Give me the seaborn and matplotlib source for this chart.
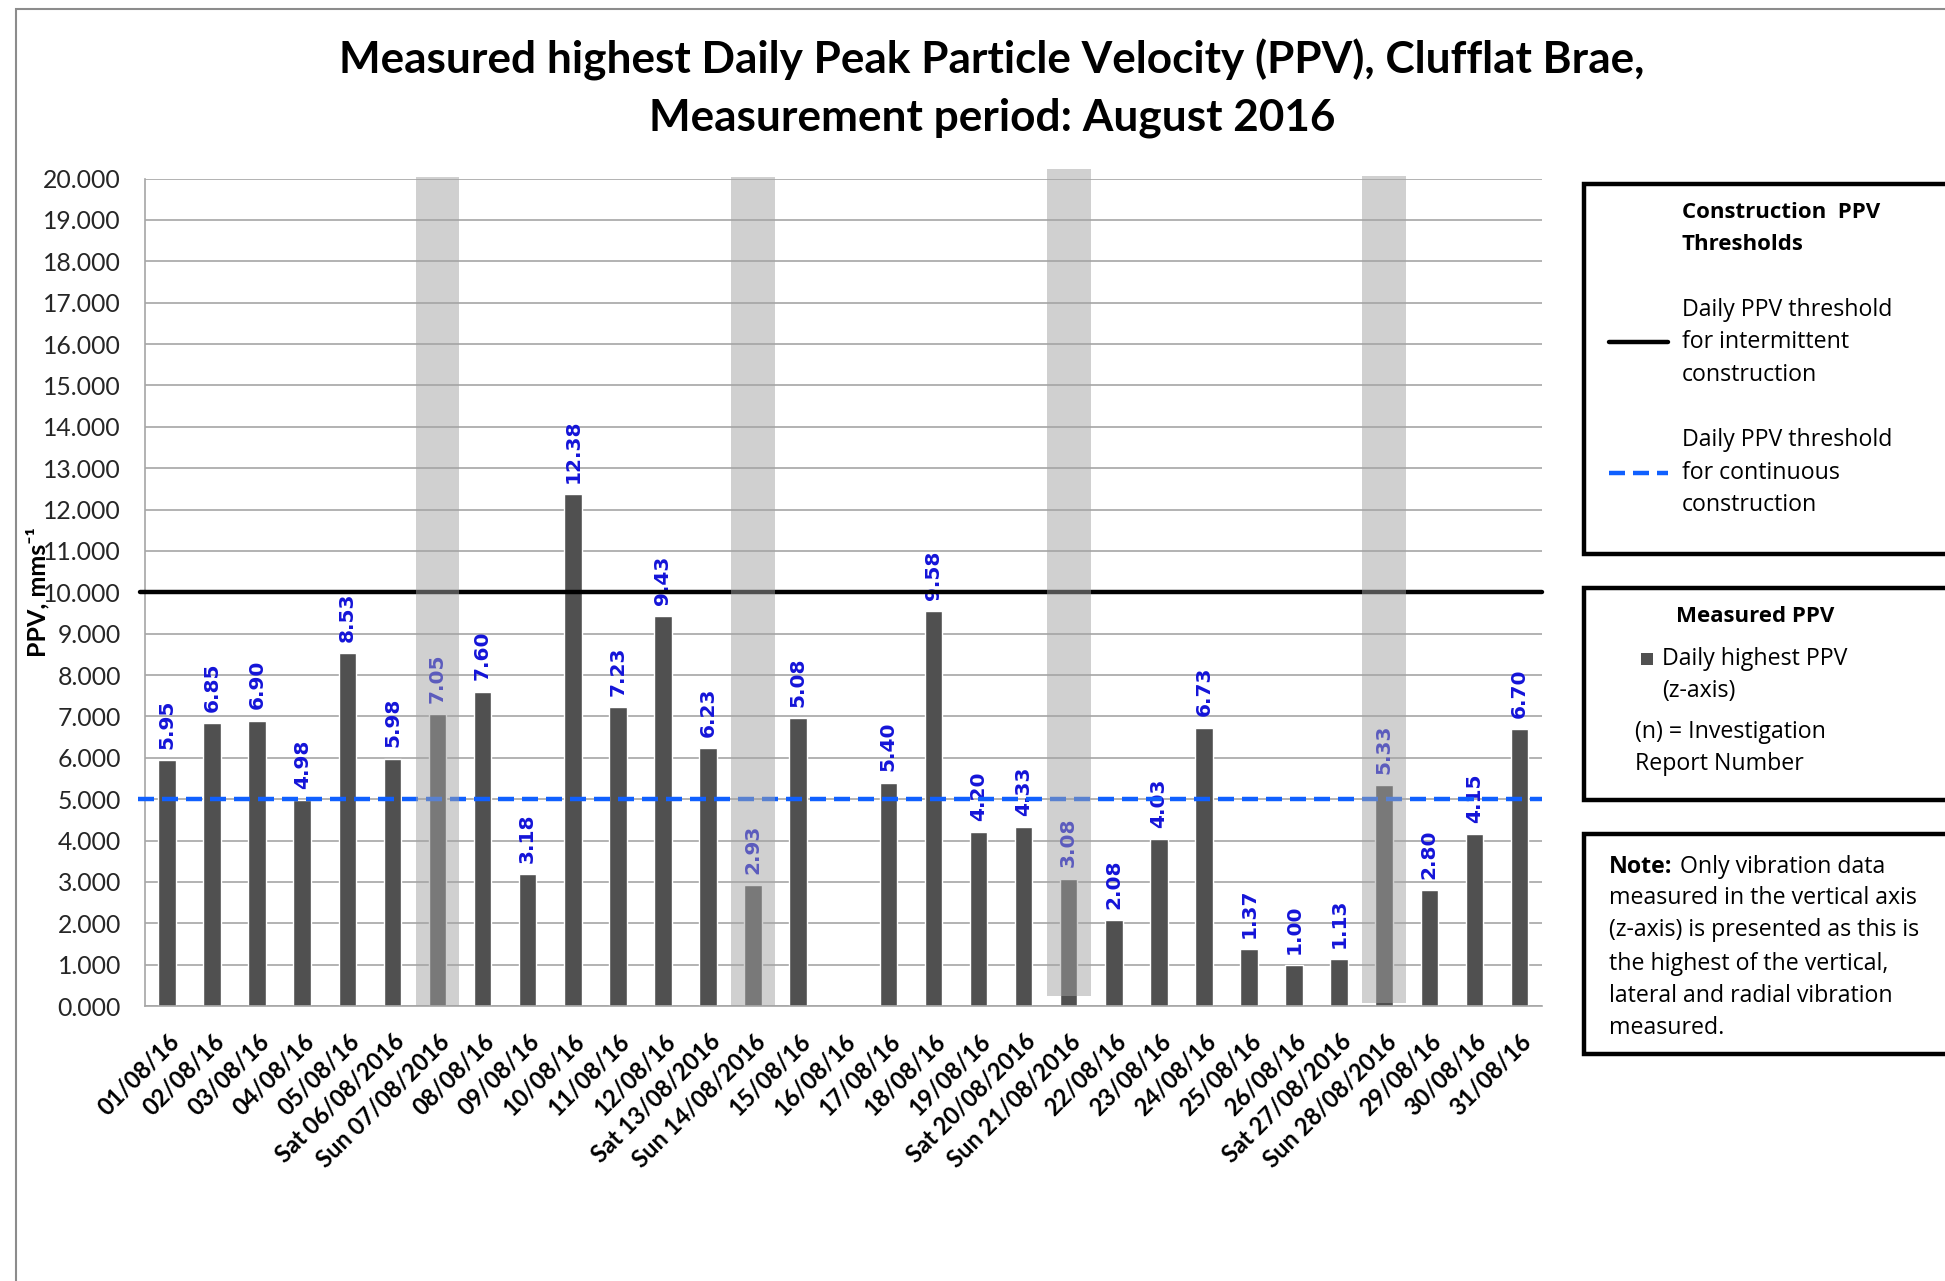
import numpy as np
import pandas as pd
import seaborn as sns
import matplotlib
matplotlib.use("Agg")
from matplotlib import pyplot as plt
from matplotlib.patches import Rectangle
from matplotlib.lines import Line2D

# data
dates = ["01/08/16", "02/08/16", "03/08/16", "04/08/16", "05/08/16",
         "Sat 06/08/2016", "Sun 07/08/2016", "08/08/16", "09/08/16", "10/08/16",
         "11/08/16", "12/08/16", "Sat 13/08/2016", "Sun 14/08/2016", "15/08/16",
         "16/08/16", "17/08/16", "18/08/16", "19/08/16", "Sat 20/08/2016",
         "Sun 21/08/2016", "22/08/16", "23/08/16", "24/08/16", "25/08/16",
         "26/08/16", "Sat 27/08/2016", "Sun 28/08/2016", "29/08/16", "30/08/16",
         "31/08/16"]
ppv = [5.95, 6.85, 6.90, 4.98, 8.53, 5.98, 7.05, 7.60, 3.18, 12.38,
       7.23, 9.43, 6.23, 2.93, 6.95, np.nan, 5.40, 9.55, 4.20, 4.33,
       3.08, 2.08, 4.03, 6.73, 1.37, 1.00, 1.13, 5.33, 2.80, 4.15, 6.70]
value_labels = ["5.95", "6.85", "6.90", "4.98", "8.53", "5.98", "7.05", "7.60", "3.18", "12.38",
                "7.23", "9.43", "6.23", "2.93", "5.08", "", "5.40", "9.58", "4.20", "4.33",
                "3.08", "2.08", "4.03", "6.73", "1.37", "1.00", "1.13", "5.33", "2.80", "4.15", "6.70"]

# sunday shading (separate series in the original)
sundays = ["Sun 07/08/2016", "Sun 14/08/2016", "Sun 21/08/2016", "Sun 28/08/2016"]
sunday_top = [20.04, 20.04, 20.22, 20.07]
sunday_bottom = [0.0, 0.0, 0.23, 0.07]

threshold_intermittent = 10.0
threshold_continuous = 5.0

W, H = 1945, 1281

sns.set_style("white")
plt.rcParams["font.family"] = ["Lato", "DejaVu Sans"]
plt.rcParams["text.color"] = "black"
plt.rcParams["axes.labelcolor"] = "black"
plt.rcParams["xtick.color"] = "black"

fig = plt.figure(figsize=(W / 100, H / 100), dpi=100)

def fx(px):
    return px / W

def fy(py):
    return 1 - py / H

# outer chart frame
fig.patches.append(Rectangle((fx(16), fy(1400)), 1.0, (1400 - 9) / H, transform=fig.transFigure,
                             fill=False, ec="#8c8c8c", lw=1.5))

ax = fig.add_axes([fx(144.5), fy(1006), 1397.5 / W, (1006 - 178.6) / H])

df = pd.DataFrame({"date": dates, "ppv": ppv})
sns.barplot(data=df, x="date", y="ppv", order=dates, color="#505050", saturation=1,
            width=0.39, errorbar=None, ax=ax, zorder=2)

# value labels
for i, (v, lab) in enumerate(zip(ppv, value_labels)):
    if not lab:
        continue
    ax.annotate(lab, (i, v), xytext=(0, 8), textcoords="offset points", rotation=90,
                ha="center", va="bottom", color="#1414d8", fontsize=14.5,
                fontweight="bold", family="DejaVu Sans", zorder=3)

# thresholds
ax.axhline(threshold_intermittent, color="black", lw=3.2, zorder=3, xmin=-0.003, clip_on=False)
ax.axhline(threshold_continuous, color="#1060ff", lw=3.2, zorder=3, dashes=(3.6, 1.8),
           xmin=-0.005, clip_on=False)

# sunday bands on top, semi transparent
pos = [dates.index(d) for d in sundays]
heights = [t - b for t, b in zip(sunday_top, sunday_bottom)]
ax.bar(pos, heights, bottom=sunday_bottom, width=0.97, color="#a3a3a3", alpha=0.5,
       zorder=4, clip_on=False, linewidth=0)

ax.set_xlim(-0.5, len(dates) - 0.5)
ax.set_ylim(0, 20)
ax.set_yticks(np.arange(0, 21, 1))
ax.set_yticklabels([f"{t:.3f}" for t in range(0, 21)])
ax.yaxis.grid(True, color="#a6a6a6", lw=1.2, zorder=0)
ax.set_axisbelow(True)
for s in ["top", "right"]:
    ax.spines[s].set_visible(False)
for s in ["left", "bottom"]:
    ax.spines[s].set_color("#a6a6a6")
    ax.spines[s].set_linewidth(1.2)
ax.tick_params(axis="y", length=0, pad=17, labelsize=17.8, labelcolor="#262626")
ax.tick_params(axis="x", length=0, pad=17, labelcolor="black")
ax.set_xticks(range(len(dates)))
ax.set_xticklabels(dates, rotation=45, ha="right", rotation_mode="anchor",
                   fontsize=17, fontweight="bold")
ax.set_xlabel("")
ax.set_ylabel("PPV, mms⁻¹", fontsize=18, fontweight="bold")
ax.yaxis.set_label_coords(-0.068, 0.5)

# title
fig.text(fx(992), fy(59.5), "Measured highest Daily Peak Particle Velocity (PPV), Clufflat Brae,",
         ha="center", va="center", fontsize=31.8, fontweight="bold")
fig.text(fx(992), fy(118), "Measurement period: August 2016",
         ha="center", va="center", fontsize=31.8, fontweight="bold")

# legend panels on the right
lfont = ["Open Sans", "DejaVu Sans"]
lsize = 16.7
bsize = 16
for top, bot in [(183.6, 554.5), (588, 800), (833.5, 1054)]:
    fig.patches.append(Rectangle((fx(1584), fy(bot)), 0.5, (bot - top) / H,
                                 transform=fig.transFigure, fill=True, fc="white",
                                 ec="black", lw=3.2))

fig.text(fx(1682), fy(212), "Construction  PPV", family=lfont, fontsize=bsize,
         fontweight="bold", va="center")
fig.text(fx(1682), fy(244), "Thresholds", family=lfont, fontsize=bsize,
         fontweight="bold", va="center")
fig.lines.append(Line2D([fx(1609), fx(1668)], [fy(342), fy(342)], transform=fig.transFigure,
                        color="black", lw=3.2))
for y, t in zip([310, 342, 374.6], ["Daily PPV threshold", "for intermittent", "construction"]):
    fig.text(fx(1682), fy(y), t, family=lfont, fontsize=lsize, va="center")
fig.lines.append(Line2D([fx(1609), fx(1668)], [fy(472.6), fy(472.6)], transform=fig.transFigure,
                        color="#1060ff", lw=3.2, dashes=(3.6, 1.8)))
for y, t in zip([440, 472.6, 505], ["Daily PPV threshold", "for continuous", "construction"]):
    fig.text(fx(1682), fy(y), t, family=lfont, fontsize=lsize, va="center")

fig.text(fx(1755), fy(616.5), "Measured PPV", family=lfont, fontsize=bsize,
         fontweight="bold", va="center", ha="center")
fig.patches.append(Rectangle((fx(1641), fy(665)), 12 / W, 12 / H, transform=fig.transFigure,
                             fc="#505050", ec="none"))
fig.text(fx(1662), fy(658.6), "Daily highest PPV", family=lfont, fontsize=lsize, va="center")
fig.text(fx(1662), fy(691), "(z-axis)", family=lfont, fontsize=lsize, va="center")
fig.text(fx(1635), fy(732), "(n) = Investigation", family=lfont, fontsize=lsize, va="center")
fig.text(fx(1635), fy(764), "Report Number", family=lfont, fontsize=lsize, va="center")

note_lines = ["Only vibration data", "measured in the vertical axis",
              "(z-axis) is presented as this is", "the highest of the vertical,",
              "lateral and radial vibration", "measured."]
note_y = [867, 898, 930, 964, 996, 1028]
bold_note = fig.text(fx(1609), fy(note_y[0]), "Note:", family=lfont, fontsize=lsize,
                     fontweight="bold", va="center")
r = fig.canvas.get_renderer()
bb = bold_note.get_window_extent(renderer=r)
fig.text(fx(bb.x1 + 7), fy(note_y[0]), note_lines[0], family=lfont, fontsize=lsize, va="center")
for y, t in zip(note_y[1:], note_lines[1:]):
    fig.text(fx(1609), fy(y), t, family=lfont, fontsize=lsize, va="center")

fig.savefig("out.png", dpi=100, facecolor="white")
